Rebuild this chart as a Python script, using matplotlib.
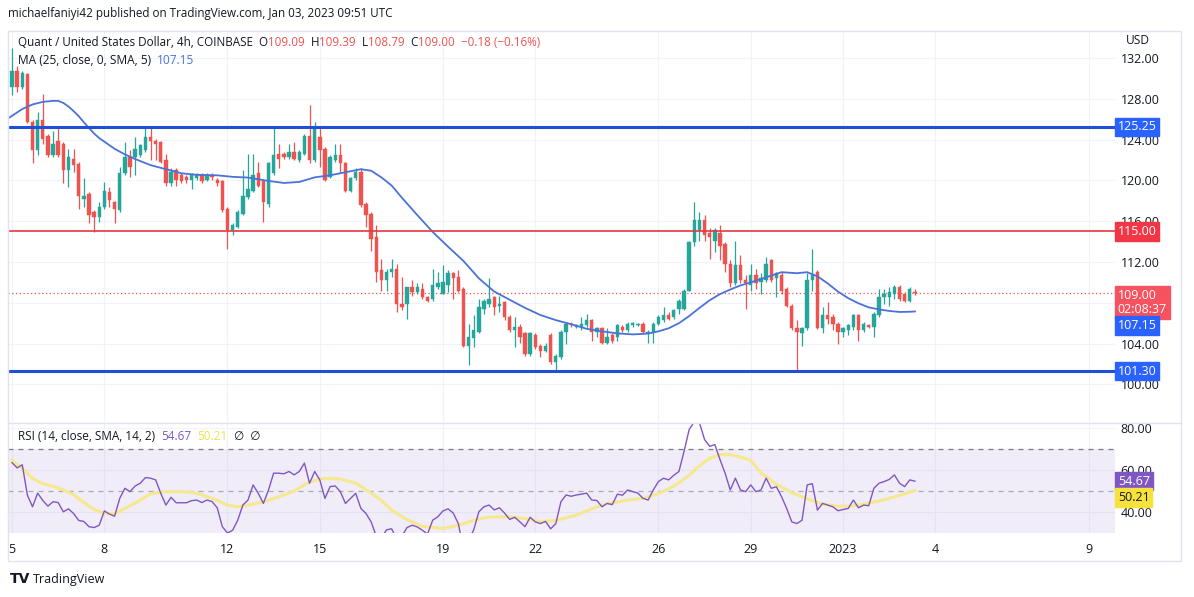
import matplotlib
matplotlib.use("Agg")
import matplotlib.pyplot as plt
from matplotlib.patches import Rectangle
from matplotlib.text import Annotation
from matplotlib.lines import Line2D

W, H = 1194, 597
plt.rcParams["font.family"] = ["Open Sans", "DejaVu Sans"]

# ---- candles: 4h bars from Dec 5 00:00 ----
opens = [
    129.2, 130.7, 129.2, 130.4, 125.7, 123.0, 125.9, 124.4, 122.5, 123.9,
    123.6, 121.0, 122.1, 121.6, 118.2, 118.7, 116.9, 116.4, 117.4, 118.9,
    117.9, 117.1, 120.7, 122.3, 122.3, 122.5, 123.0, 124.3, 123.9, 123.8,
    122.0, 119.7, 121.0, 120.5, 120.3, 120.0, 120.2, 120.5, 120.0, 120.5,
    120.0, 119.9, 117.2, 115.1, 115.4, 116.7, 118.4, 119.0, 120.7, 119.9,
    117.7, 120.7, 122.6, 122.6, 122.3, 122.8, 122.0, 122.6, 124.4, 122.0,
    124.3, 123.1, 120.3, 122.0, 122.5, 121.7, 119.0, 120.2, 120.8, 117.7,
    116.7, 114.5, 111.2, 110.2, 111.0, 111.3, 107.9, 107.9, 109.5, 109.1,
    109.4, 108.6, 108.4, 109.5, 108.9, 109.7, 110.9, 110.5, 109.4, 103.8,
    104.5, 105.1, 107.4, 107.9, 108.6, 107.7, 108.1, 106.6, 105.3, 105.6,
    105.0, 103.0, 104.8, 103.8, 103.3, 104.8, 102.2, 102.7, 105.1, 105.9,
    105.6, 105.6, 105.8, 106.3, 105.1, 105.5, 104.1, 104.8, 104.6, 105.6,
    105.3, 105.8, 105.8, 105.9, 105.0, 105.1, 105.9, 106.3, 106.8, 106.6,
    107.4, 107.4, 109.2, 114.0, 115.1, 116.1, 114.8, 114.1, 114.8, 113.8,
    111.8, 109.9, 111.7, 110.2, 109.7, 110.7, 110.0, 110.2, 112.2, 110.4,
    110.7, 109.4, 107.7, 105.5, 105.0, 105.5, 110.2, 111.0, 105.5, 106.8,
    106.6, 105.9, 105.1, 105.3, 105.6, 106.8, 105.3, 105.8, 105.6, 106.8,
    108.6, 108.6, 108.9, 109.5, 108.9, 108.2, 109.09,
]
highs = [
    133.0, 131.2, 130.7, 130.5, 125.9, 126.7, 128.5, 124.6, 124.8, 125.1,
    123.8, 123.1, 123.1, 121.8, 120.2, 118.9, 117.1, 117.9, 119.8, 119.4,
    118.0, 121.3, 123.8, 123.0, 124.3, 123.6, 125.1, 125.1, 124.1, 123.9,
    122.6, 121.2, 121.2, 120.7, 120.5, 120.7, 120.7, 120.7, 120.7, 120.7,
    120.2, 120.0, 117.4, 115.8, 117.1, 121.0, 122.6, 122.6, 121.8, 120.0,
    121.8, 125.1, 123.6, 122.8, 123.6, 123.8, 123.0, 124.6, 127.4, 125.7,
    125.1, 123.3, 122.5, 123.6, 123.6, 121.8, 120.3, 121.2, 121.2, 117.9,
    116.9, 115.6, 112.3, 111.3, 112.3, 111.8, 110.5, 109.5, 110.2, 109.9,
    109.9, 108.7, 111.3, 111.0, 111.7, 111.2, 111.0, 111.2, 109.5, 105.9,
    106.8, 108.4, 108.4, 110.4, 108.7, 108.7, 108.2, 106.8, 106.6, 105.9,
    105.1, 105.1, 105.0, 104.0, 104.1, 105.0, 103.0, 105.3, 106.1, 106.1,
    105.9, 106.6, 106.9, 106.4, 105.6, 105.6, 105.5, 105.0, 105.9, 105.8,
    106.1, 106.1, 106.0, 106.1, 105.3, 106.1, 106.8, 107.6, 107.1, 107.4,
    108.4, 109.4, 114.1, 117.9, 116.9, 116.6, 115.3, 115.3, 115.6, 114.0,
    112.2, 114.1, 112.7, 110.7, 111.8, 111.3, 110.9, 112.5, 112.3, 111.0,
    111.0, 109.5, 107.9, 106.3, 105.6, 110.9, 113.3, 111.2, 107.6, 108.1,
    106.9, 106.1, 105.6, 105.9, 106.9, 106.9, 106.1, 105.9, 107.1, 109.4,
    109.4, 109.5, 109.7, 109.7, 109.1, 109.5, 109.39,
]
lows = [
    128.4, 128.7, 129.0, 125.6, 121.7, 122.5, 123.6, 122.3, 122.3, 122.3,
    119.7, 119.4, 120.8, 117.2, 117.4, 115.8, 114.9, 115.9, 117.2, 117.4,
    115.8, 116.9, 120.5, 120.3, 120.5, 122.3, 122.8, 122.0, 122.0, 121.7,
    119.5, 119.5, 119.5, 119.7, 119.7, 119.2, 120.0, 119.7, 119.9, 120.0,
    119.5, 116.9, 113.3, 114.6, 115.3, 116.6, 118.2, 118.9, 119.4, 115.9,
    117.4, 120.5, 121.2, 122.1, 122.1, 122.0, 121.8, 122.5, 121.7, 121.8,
    121.3, 119.9, 120.2, 121.8, 120.7, 118.9, 118.9, 120.0, 117.4, 115.4,
    113.1, 110.0, 109.2, 109.2, 110.5, 107.1, 107.3, 106.4, 108.7, 108.9,
    108.4, 108.1, 108.2, 109.4, 108.9, 109.1, 108.4, 109.1, 103.7, 101.9,
    103.7, 105.0, 106.9, 107.6, 106.8, 107.1, 106.3, 105.1, 103.7, 104.1,
    102.8, 102.8, 103.5, 102.7, 103.2, 102.0, 101.4, 102.5, 104.0, 105.6,
    105.5, 105.3, 105.6, 104.3, 104.6, 104.0, 104.0, 104.1, 104.3, 105.1,
    105.1, 105.6, 105.7, 105.0, 104.1, 104.1, 105.8, 106.1, 106.3, 106.4,
    106.9, 107.3, 109.2, 113.6, 114.1, 114.1, 112.3, 113.0, 112.2, 111.0,
    109.5, 109.7, 109.9, 107.4, 109.2, 109.4, 108.9, 110.0, 110.0, 108.6,
    108.9, 107.6, 105.3, 101.4, 103.8, 105.3, 109.2, 105.4, 105.0, 105.9,
    105.3, 104.0, 104.6, 104.8, 105.3, 104.3, 105.1, 105.5, 104.6, 106.6,
    107.9, 107.7, 108.4, 108.2, 108.1, 108.1, 108.79,
]
closes = [
    130.7, 129.2, 130.5, 125.7, 123.0, 125.9, 124.1, 122.5, 123.6, 122.5,
    121.0, 122.3, 121.5, 118.5, 118.5, 116.6, 116.4, 117.4, 119.0, 118.1,
    117.2, 120.7, 122.3, 121.3, 123.1, 123.5, 124.3, 123.9, 123.6, 121.8,
    119.7, 120.8, 120.0, 119.9, 120.0, 120.5, 120.5, 119.9, 120.5, 120.3,
    119.7, 117.1, 115.1, 115.6, 116.9, 118.5, 119.2, 120.5, 119.5, 117.9,
    121.7, 122.5, 122.1, 122.3, 122.8, 122.1, 122.8, 124.4, 122.0, 125.1,
    123.0, 120.0, 122.3, 122.5, 121.7, 119.0, 120.2, 120.8, 117.6, 116.6,
    114.3, 111.0, 110.2, 111.0, 111.3, 107.9, 107.6, 109.5, 109.1, 109.5,
    108.6, 108.2, 109.7, 109.9, 110.0, 110.9, 110.4, 109.2, 103.8, 104.6,
    105.3, 107.6, 108.2, 108.4, 107.6, 107.9, 106.6, 105.3, 105.6, 104.6,
    103.0, 105.0, 103.7, 103.3, 103.8, 102.2, 102.8, 105.1, 105.9, 105.8,
    105.8, 105.9, 106.3, 105.1, 105.5, 104.1, 104.6, 104.3, 105.8, 105.3,
    105.9, 106.0, 105.9, 105.1, 105.1, 105.9, 106.6, 106.8, 106.4, 107.3,
    108.2, 109.2, 114.0, 116.1, 116.1, 114.6, 114.5, 115.1, 113.6, 111.8,
    109.9, 111.7, 110.2, 109.9, 110.7, 109.9, 110.4, 111.8, 110.2, 110.9,
    109.2, 107.7, 105.5, 105.1, 105.5, 110.2, 110.7, 105.5, 106.8, 106.4,
    105.9, 105.1, 105.5, 105.8, 106.8, 105.3, 105.9, 105.6, 106.9, 108.6,
    108.9, 109.1, 109.5, 108.4, 108.2, 109.4, 109.00,
]

# MA(25) line: (bar index, value)
ma_idx = [-1, 2, 4, 6, 8, 9, 10, 11, 12, 13, 14, 15, 16, 17, 18, 20, 22, 24, 27, 30,
          33, 36, 40, 43, 46, 50, 53, 56, 59, 62, 65, 68, 70, 72, 74, 76, 79, 82, 85, 88,
          91, 94, 97, 100, 103, 106, 109, 112, 115, 118, 121, 124, 126, 128, 130, 132, 134, 136, 138, 140,
          142, 144, 147, 150, 153, 155, 157, 159, 161, 163, 165, 167, 169, 171, 173, 175, 176]
ma_vals = [126.0, 127.0, 127.45, 127.7, 127.8, 127.8, 127.6, 127.25, 126.8, 126.3,
           125.7, 125.15, 124.6, 124.15, 123.8, 123.1, 122.55, 122.1, 121.5, 121.1,
           120.7, 120.55, 120.5, 120.35, 120.28, 119.95, 119.75, 119.85, 120.3, 120.5,
           120.8, 121.1, 120.95, 120.3, 119.5, 118.3, 116.6, 114.95, 113.5, 112.1,
           110.4, 109.1, 108.3, 107.5, 106.8, 106.3, 105.9, 105.45, 105.2, 105.0,
           104.9, 104.98, 105.2, 105.5, 106.0, 106.7, 107.5, 108.25, 108.85, 109.3,
           109.7, 110.0, 110.5, 111.0, 110.9, 111.0, 110.6, 109.9, 109.1, 108.45,
           107.95, 107.55, 107.35, 107.2, 107.1, 107.12, 107.15]

rsi_vals = [
    63.5, 61.0, 62.5, 48.0, 42.5, 49.0, 45.5, 42.8, 44.9, 44.5,
    40.1, 41.5, 39.3, 36.0, 35.5, 33.0, 32.6, 33.7, 40.5, 39.0,
    38.0, 46.5, 51.3, 49.7, 52.4, 53.7, 56.4, 56.1, 55.3, 48.9,
    43.3, 47.0, 44.4, 44.4, 44.4, 45.4, 45.7, 44.5, 45.7, 45.0,
    42.0, 33.0, 30.0, 31.3, 36.1, 43.3, 45.7, 52.9, 48.9, 44.1,
    50.5, 58.5, 58.5, 58.2, 59.3, 57.7, 59.3, 63.3, 53.7, 59.3,
    55.3, 46.5, 52.1, 52.4, 49.7, 44.1, 46.5, 48.9, 41.7, 39.3,
    35.3, 28.5, 27.5, 31.5, 32.0, 27.0, 28.5, 32.6, 33.7, 32.9,
    31.3, 29.5, 36.1, 37.7, 40.5, 41.5, 39.5, 34.5, 22.0, 26.5,
    31.5, 40.1, 42.5, 43.3, 41.0, 42.0, 39.5, 36.5, 37.5, 35.3,
    33.0, 37.5, 35.3, 34.5, 35.5, 32.0, 34.5, 44.9, 48.1, 47.5,
    48.1, 48.5, 49.0, 45.7, 45.5, 42.5, 44.1, 43.5, 48.5, 48.0,
    50.5, 49.7, 49.0, 46.5, 45.7, 50.5, 54.5, 56.1, 55.3, 57.5,
    59.3, 68.9, 79.3, 83.0, 82.5, 74.5, 71.3, 72.1, 65.0, 58.5,
    50.5, 56.1, 50.5, 49.7, 52.9, 49.7, 50.5, 56.1, 51.3, 52.0,
    47.3, 41.7, 35.3, 34.5, 36.1, 52.9, 53.5, 40.9, 44.1, 43.3,
    42.5, 40.6, 41.2, 41.7, 45.7, 42.0, 43.3, 43.0, 51.3, 53.7,
    54.5, 55.5, 57.7, 53.7, 52.1, 55.3, 54.67,
]

# RSI-based SMA(14)
rsi_ma_idx = [0, 2, 4, 6, 8, 10, 12, 14, 16, 18, 20, 22, 24, 27, 30, 33, 35, 37, 40, 42,
              44, 46, 49, 52, 55, 58, 61, 64, 67, 70, 72, 74, 77, 80, 84, 87, 90, 93, 97, 100,
              103, 106, 110, 113, 116, 120, 123, 126, 129, 132, 134, 136, 138, 140, 142, 144, 146, 149, 152, 155,
              158, 161, 164, 167, 170, 173, 176]
rsi_ma_vals = [64.5, 60.8, 56.0, 53.5, 52.3, 50.5, 48.3, 44.5, 41.2, 39.4,
               39.2, 41.7, 44.2, 48.7, 49.7, 49.7, 49.3, 48.2, 45.6, 43.2,
               42.5, 43.3, 44.9, 47.2, 50.0, 54.4, 56.1, 55.7, 53.8, 49.0,
               45.5, 40.9, 36.3, 33.2, 32.1, 33.7, 36.0, 37.6, 37.7, 36.9,
               35.4, 36.0, 38.5, 41.5, 44.0, 45.7, 46.5, 48.7, 52.3, 57.5,
               62.0, 65.6, 67.3, 67.3, 66.2, 64.6, 58.6, 53.2, 49.2, 46.3,
               43.8, 42.7, 42.9, 44.2, 45.8, 47.9, 50.21]

day_labels = ["5", "8", "12", "15", "19", "22", "26", "29", "2023", "4", "9"]
day_offsets = [0, 3, 7, 10, 14, 17, 21, 24, 27, 30, 35]   # days after Dec 5
bars_per_day = 6

price_ticks = [100, 104, 108, 112, 116, 120, 124, 128, 132]
rsi_ticks = [40, 60, 80]
blue_levels = [125.25, 101.30]
red_level = 115.00
last_price = 109.00
ma_last = 107.15
rsi_last = 54.67
rsi_ma_last = 50.21

GREEN, RED = "#26a69a", "#ef5350"
BLUE = "#2962ff"
TXT = "#131722"
GRID = "#f0f3fa"
BORDER = "#e0e3eb"


def fx(x):
    return x / W


def fy(y):
    return 1 - y / H


fig = plt.figure(figsize=(W / 100, H / 100), dpi=100)
ax = fig.add_axes([fx(8), fy(422), fx(1115 - 8), (422 - 30) / H])
ax_rsi = fig.add_axes([fx(8), fy(533), fx(1115 - 8), (533 - 423) / H])

x_left = -0.78
x_right = 215.0
day_pos = [d * bars_per_day for d in day_offsets]

for a in (ax, ax_rsi):
    a.set_xlim(x_left, x_right)
    for s in a.spines.values():
        s.set_visible(False)
    a.set_xticks(day_pos)
    a.grid(True, color=GRID, lw=0.8)
    a.set_axisbelow(True)
    a.yaxis.tick_right()
    a.tick_params(length=0, labelsize=9.0, labelcolor=TXT, pad=4)

ax.set_xticklabels([])
ax_rsi.set_xticklabels(day_labels)
ax_rsi.tick_params(axis="x", pad=7)

# ---- price panel ----
ax.set_ylim(96.31, 134.75)
ax.set_yticks(price_ticks)
ax.set_yticklabels([f"{p:.2f}" for p in price_ticks])

idx = list(range(len(closes)))
for i in idx:
    o, h, l, c = opens[i], highs[i], lows[i], closes[i]
    col = GREEN if c >= o else RED
    ax.vlines(i, l, h, color=col, lw=0.9, zorder=3)
    lo, hi = min(o, c), max(o, c)
    ax.bar(i, max(hi - lo, 0.06), bottom=lo, width=0.66, color=col, edgecolor=col, lw=0.3, zorder=3)

ax.plot(ma_idx, ma_vals, color="#4a72d9", lw=1.3, zorder=4)

for lvl in blue_levels:
    ax.axhline(lvl, color="#1e4fd6", lw=2.2, zorder=5)
ax.axhline(red_level, color="#e0393e", lw=1.2, zorder=5)
ax.axhline(last_price, color=RED, lw=0.9, ls=(0, (1, 2)), zorder=2)


def price_box(a, y, text, fc, tc="white"):
    a.text(1.0025, y, text, transform=a.get_yaxis_transform(), ha="left", va="center",
           fontsize=9.0, color=tc, clip_on=False, zorder=10, linespacing=1.1,
           bbox=dict(boxstyle="square,pad=0.22", fc=fc, ec=fc))


price_box(ax, blue_levels[0], f"{blue_levels[0]:.2f}", BLUE)
price_box(ax, red_level, f"{red_level:.2f}", "#f23645")
price_box(ax, last_price - 0.95, f"{last_price:.2f}\n02:08:37", "#f7525f")
price_box(ax, 105.75, f"{ma_last:.2f}", BLUE)
price_box(ax, blue_levels[1], f"{blue_levels[1]:.2f}", BLUE)

# ---- RSI panel ----
ax_rsi.set_ylim(30, 82.4)
ax_rsi.set_yticks(rsi_ticks)
ax_rsi.set_yticklabels([f"{v:.2f}" for v in rsi_ticks])
ax_rsi.axhspan(30, 70, color="#7e57c2", alpha=0.1, lw=0, zorder=1)
ax_rsi.axhline(70, color="#787b86", lw=0.9, ls=(0, (4, 4)), zorder=2)
ax_rsi.axhline(50, color="#a8abb3", lw=0.9, ls=(0, (4, 4)), zorder=2)
ax_rsi.plot(rsi_ma_idx, rsi_ma_vals, color="#f5e88f", lw=2.2, zorder=3)
ax_rsi.plot(idx, rsi_vals, color="#7e57c2", lw=1.0, zorder=4)
price_box(ax_rsi, rsi_last, f"{rsi_last:.2f}", "#7e57c2")
price_box(ax_rsi, 46.9, f"{rsi_ma_last:.2f}", "#f7e23b", TXT)

# ---- frame and separators ----
fig.add_artist(Rectangle((fx(8), fy(561)), fx(1181 - 8), (561 - 31) / H, transform=fig.transFigure,
                         fill=False, ec=BORDER, lw=1))
fig.add_artist(Line2D([fx(8), fx(1181)], [fy(422.5)] * 2, transform=fig.transFigure, color=BORDER, lw=1))


def text_run(x, y, parts, size):
    t = fig.text(fx(x), fy(y), parts[0][0], color=parts[0][1], fontsize=size, ha="left", va="center")
    for s, c in parts[1:]:
        t = fig.add_artist(Annotation(s, xy=(1, 0.5), xycoords=t, ha="left", va="center",
                                      color=c, fontsize=size))
    return t


fig.text(fx(8), fy(14), "michaelfaniyi42 published on TradingView.com, Jan 03, 2023 09:51 UTC",
         fontsize=8.4, color=TXT, ha="left", va="center")
text_run(18, 42, [("Quant / United States Dollar, 4h, COINBASE  O", TXT), ("109.09", RED),
                  ("  H", TXT), ("109.39", RED), ("  L", TXT), ("108.79", RED),
                  ("  C", TXT), ("109.00", RED), ("  \u22120.18 (\u22120.16%)", RED)], 8.4)
text_run(18, 60, [("MA (25, close, 0, SMA, 5)  ", TXT), (f"{ma_last:.2f}", "#4a72d9")], 8.6)
text_run(18, 437, [("RSI (14, close, SMA, 14, 2)  ", TXT), (f"{rsi_last:.2f}", "#7e57c2"),
                   ("  ", TXT), (f"{rsi_ma_last:.2f}", "#f2e24a"), ("  \u2205  \u2205", TXT)], 8.5)
fig.text(fx(1126), fy(41), "USD", fontsize=8.6, color=TXT, ha="left", va="center")

fig.text(fx(10), fy(579), "TV", fontsize=10, weight="heavy", color=TXT, ha="left", va="center",
         family="DejaVu Sans")
fig.text(fx(33), fy(579), "TradingView", fontsize=9.0, color=TXT, ha="left", va="center")

fig.savefig("out.png", dpi=100, facecolor="white")
